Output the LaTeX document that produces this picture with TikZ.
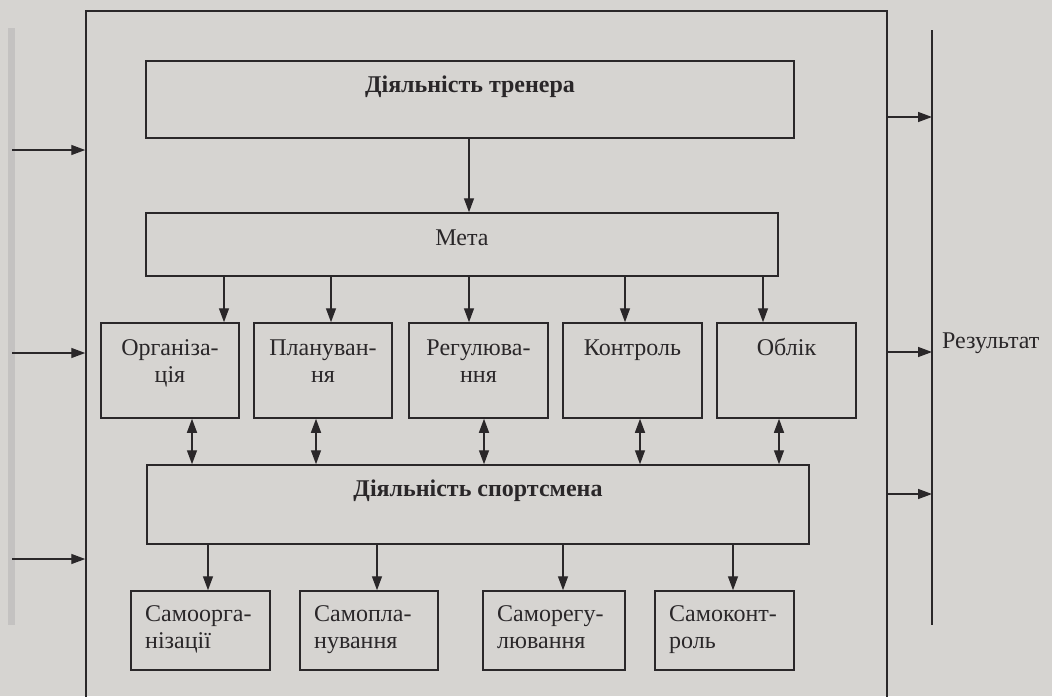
\documentclass[tikz,border=0pt]{standalone}
\usepackage{fontspec}
\setmainfont{Liberation Serif}
\usetikzlibrary{arrows.meta}
\definecolor{paper}{RGB}{214,212,209}
\definecolor{ink}{RGB}{42,39,41}
\definecolor{strip}{RGB}{196,194,193}
\begin{document}
\begin{tikzpicture}[x=1pt,y=-1pt,
  box/.style={draw=ink, line width=1.5pt, rectangle, inner sep=0pt},
  tip/.tip={Triangle[length=14pt,width=10pt]},
  arr/.style={draw=ink, line width=1.4pt, -tip},
  darr/.style={draw=ink, line width=1.4pt, tip-tip},
  lbl/.style={text=ink, inner sep=0pt, font=\fontsize{24}{27}\selectfont},
  lblb/.style={lbl, font=\fontsize{24}{27}\selectfont\bfseries}]
\useasboundingbox (0,0) rectangle (1052,696);
\fill[paper] (0,0) rectangle (1052,696);
\clip (0,0) rectangle (1052,696);
\fill[strip] (8,28) rectangle (15,625);
% outer frame (cut off at the bottom)
\node[box, minimum width=801pt, minimum height=709pt] (outer) at (486.5,365.5) {};
% boxes
\node[box, minimum width=648pt, minimum height=77pt] (trener) at (470,99.5) {};
\node[box, minimum width=632pt, minimum height=63pt] (meta) at (462,244.5) {};
\node[box, minimum width=138pt, minimum height=95pt] (org) at (170,370.5) {};
\node[box, minimum width=138pt, minimum height=95pt] (plan) at (323,370.5) {};
\node[box, minimum width=139pt, minimum height=95pt] (reg) at (478.5,370.5) {};
\node[box, minimum width=139pt, minimum height=95pt] (kontr) at (632.5,370.5) {};
\node[box, minimum width=139pt, minimum height=95pt] (oblik) at (786.5,370.5) {};
\node[box, minimum width=662pt, minimum height=79pt] (sport) at (478,504.5) {};
\node[box, minimum width=139pt, minimum height=79pt] (so) at (200.5,630.5) {};
\node[box, minimum width=138pt, minimum height=79pt] (sp) at (369,630.5) {};
\node[box, minimum width=142pt, minimum height=79pt] (sr) at (554,630.5) {};
\node[box, minimum width=139pt, minimum height=79pt] (sk) at (724.5,630.5) {};
% labels
\node[lblb, anchor=base] (ltrener) at (470,92) {Діяльність тренера};
\node[lbl, anchor=base] (lmeta) at (462,245) {Мета};
\node[lbl, anchor=base] (lorg) at (170,355) {\begin{tabular}[t]{@{}c@{}}Організа-\\ція\end{tabular}};
\node[lbl, anchor=base] (lplan) at (323,355) {\begin{tabular}[t]{@{}c@{}}Плануван-\\ня\end{tabular}};
\node[lbl, anchor=base] (lreg) at (478.5,355) {\begin{tabular}[t]{@{}c@{}}Регулюва-\\ння\end{tabular}};
\node[lbl, anchor=base] (lkontr) at (632.5,355) {Контроль};
\node[lbl, anchor=base] (loblik) at (786.5,355) {Облік};
\node[lblb, anchor=base] (lsport) at (478,496) {Діяльність спортсмена};
\node[lbl, anchor=base west] (lso) at (145,621) {\begin{tabular}[t]{@{}l@{}}Самоорга-\\нізації\end{tabular}};
\node[lbl, anchor=base west] (lsp) at (314,621) {\begin{tabular}[t]{@{}l@{}}Самопла-\\нування\end{tabular}};
\node[lbl, anchor=base west] (lsr) at (497,621) {\begin{tabular}[t]{@{}l@{}}Саморегу-\\лювання\end{tabular}};
\node[lbl, anchor=base west] (lsk) at (669,621) {\begin{tabular}[t]{@{}l@{}}Самоконт-\\роль\end{tabular}};
\node[lbl, anchor=base west] (lres) at (942,348) {Результат};
% result line
\coordinate (rtop) at (932,30);
\coordinate (rbot) at (932,625);
\draw[draw=ink, line width=1.5pt] (rtop) -- (rbot);
% connectors
\draw[arr] (trener.south -| 469,0) -- (meta.north -| 469,0);
\draw[arr] (meta.south -| 224,0) -- (org.north -| 224,0);
\draw[arr] (meta.south -| 331,0) -- (plan.north -| 331,0);
\draw[arr] (meta.south -| 469,0) -- (reg.north -| 469,0);
\draw[arr] (meta.south -| 625,0) -- (kontr.north -| 625,0);
\draw[arr] (meta.south -| 763,0) -- (oblik.north -| 763,0);
\draw[darr] (org.south -| 192,0) -- (sport.north -| 192,0);
\draw[darr] (plan.south -| 316,0) -- (sport.north -| 316,0);
\draw[darr] (reg.south -| 484,0) -- (sport.north -| 484,0);
\draw[darr] (kontr.south -| 640,0) -- (sport.north -| 640,0);
\draw[darr] (oblik.south -| 779,0) -- (sport.north -| 779,0);
\draw[arr] (sport.south -| 208,0) -- (so.north -| 208,0);
\draw[arr] (sport.south -| 377,0) -- (sp.north -| 377,0);
\draw[arr] (sport.south -| 563,0) -- (sr.north -| 563,0);
\draw[arr] (sport.south -| 733,0) -- (sk.north -| 733,0);
% inputs
\coordinate (in1) at (12,150);
\coordinate (in2) at (12,353);
\coordinate (in3) at (12,559);
\draw[arr] (in1) -- (outer.west |- in1);
\draw[arr] (in2) -- (outer.west |- in2);
\draw[arr] (in3) -- (outer.west |- in3);
% outputs
\coordinate (o1) at (0,117);
\coordinate (o2) at (0,352);
\coordinate (o3) at (0,494);
\draw[arr] (outer.east |- o1) -- (rtop |- o1);
\draw[arr] (outer.east |- o2) -- (rtop |- o2);
\draw[arr] (outer.east |- o3) -- (rtop |- o3);
\end{tikzpicture}
\end{document}
